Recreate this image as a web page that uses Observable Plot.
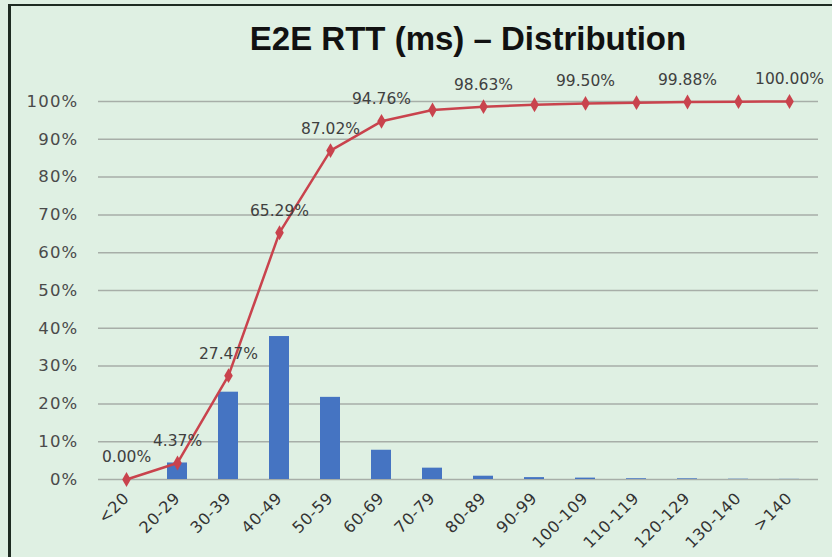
<!DOCTYPE html>
<html>
<head>
<meta charset="utf-8">
<script src="https://cdn.jsdelivr.net/npm/d3@7"></script>
<script src="https://cdn.jsdelivr.net/npm/@observablehq/plot@0.6"></script>
<style>
  html, body { margin: 0; padding: 0; background: #dff0e3; }
  #wrap { position: relative; width: 832px; height: 557px; background: #dff0e3; overflow: hidden; }
  #frame { position: absolute; left: 8px; top: 4px; width: 840px; height: 570px;
           border-left: 3px solid #1e2b22; border-top: 2px solid #1e2b22; pointer-events: none; }
  #title { position: absolute; top: 19px; left: 0; width: 832px; padding-left: 104px; box-sizing: border-box;
           text-align: center; font: bold 33px "Liberation Sans", Arial, sans-serif; line-height: 40px; color: #111; }
  #chart { position: absolute; top: 60px; left: 0; }
  #chart g[aria-label="y-axis tick label"] { letter-spacing: 1.2px; }
  #chart g[aria-label="x-axis tick label"] { letter-spacing: 0.6px; }
</style>
</head>
<body>
<div id="wrap">
  <div id="title">E2E RTT (ms) – Distribution</div>
  <div id="chart"></div>
  <div id="frame"></div>
</div>
<script>
const categories = ["<20", "20-29", "30-39", "40-49", "50-59", "60-69", "70-79", "80-89", "90-99", "100-109", "110-119", "120-129", "130-140", ">140"];
const sharePct = [0, 4.37, 23.10, 37.82, 21.73, 7.74, 3.00, 0.87, 0.50, 0.37, 0.20, 0.18, 0.08, 0.04];
const cumulativePct = [0, 4.37, 27.47, 65.29, 87.02, 94.76, 97.76, 98.63, 99.13, 99.50, 99.70, 99.88, 99.96, 100.00];
const showLabel = [true, true, true, true, true, true, false, true, false, true, false, true, false, true];
const yTicks = [0, 10, 20, 30, 40, 50, 60, 70, 80, 90, 100];

const data = categories.map((c, i) => ({cat: c, share: sharePct[i], cum: cumulativePct[i], lab: showLabel[i]}));

const chart = Plot.plot({
  width: 832,
  height: 497,
  marginLeft: 98,
  marginRight: 14,
  marginTop: 41,
  marginBottom: 78,
  style: {background: "transparent", fontFamily: "DejaVu Sans, sans-serif", fontSize: "14px", color: "#4a4a4a"},
  x: {type: "band", domain: categories, paddingInner: 0.6, paddingOuter: 0.3, label: null},
  y: {domain: [0, 100], label: null},
  marks: [
    Plot.ruleY(yTicks, {stroke: "#a7aea8", strokeWidth: 1.5}),
    Plot.barY(data, {x: "cat", y: "share", fill: "#4574c2"}),
    Plot.line(data, {x: "cat", y: "cum", stroke: "#c9434d", strokeWidth: 2.5}),
    Plot.dot(data, {x: "cat", y: "cum", symbol: "diamond", fill: "#c9434d", r: 4.5}),
    Plot.text(data.filter(d => d.lab), {x: "cat", y: "cum", text: d => d.cum.toFixed(2) + "%", dy: -22,
      fontSize: 15.5, fill: "#404040", fontFamily: "DejaVu Sans, sans-serif"}),
    Plot.axisY({ticks: yTicks, tickFormat: d => d + "%", tickSize: 0, tickPadding: 20, fontSize: 16.5, fill: "#4a4a4a"}),
    Plot.axisX({tickRotate: -45, tickSize: 0, tickPadding: 16, fontSize: 16, fill: "#333"})
  ]
});
document.getElementById("chart").appendChild(chart);
</script>
</body>
</html>
